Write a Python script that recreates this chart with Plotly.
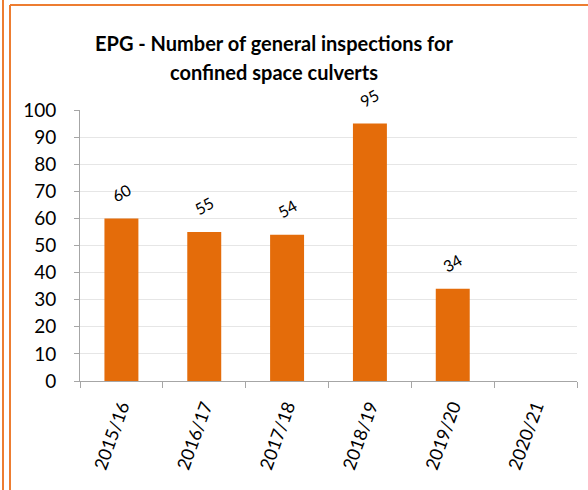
import plotly.graph_objects as go

categories = ["2015/16", "2016/17", "2017/18", "2018/19", "2019/20", "2020/21"]
values = [60, 55, 54, 95, 34, None]
labels = ["60", "55", "54", "95", "34", ""]
title_lines = ["EPG - Number of general inspections for", "confined space culverts"]

W, H = 588, 490
L, R, T, B = 80, 11, 110, 109
pw, ph = W - L - R, H - T - B

def px_x(p):
    return (p - L) / pw

def px_y(p):
    return (H - B - p) / ph

fig = go.Figure()
fig.add_trace(go.Bar(
    x=categories, y=values,
    marker=dict(color="#E46C0A", line=dict(width=0)),
    width=0.41,
    hoverinfo="skip",
))

for c, v, t in zip(categories, values, labels):
    if v is None:
        continue
    fig.add_annotation(x=c, y=v, text=t, showarrow=False, textangle=-30,
                       yshift=26, font=dict(size=16, color="#000000", family="Lato"))

for line, cy in zip(title_lines, [43, 72]):
    fig.add_annotation(xref="paper", yref="paper", x=px_x(274), y=px_y(cy),
                       xanchor="center", yanchor="middle", showarrow=False,
                       text="<b>" + line + "</b>",
                       font=dict(size=20, family="Lato", color="#000000"))

orange = "#ED7D31"
frame = [
    (px_x(3), px_y(0), px_x(3), px_y(H)),
    (px_x(10), px_y(5), px_x(10), px_y(H)),
    (px_x(10), px_y(5), px_x(W), px_y(5)),
]
for x0, y0, x1, y1 in frame:
    fig.add_shape(type="line", xref="paper", yref="paper", x0=x0, y0=y0, x1=x1, y1=y1,
                  line=dict(color=orange, width=2))

fig.update_layout(
    width=W, height=H,
    margin=dict(l=L, r=R, t=T, b=B, autoexpand=False),
    paper_bgcolor="white", plot_bgcolor="white",
    showlegend=False,
    font=dict(family="Lato", color="#000000"),
    xaxis=dict(
        type="category", tickson="boundaries", ticks="outside", ticklen=6,
        tickcolor="#A6A6A6", showline=True, linecolor="#A6A6A6", linewidth=1,
        tickangle=-70, tickfont=dict(size=18, family="Lato", color="#000000"),
        showgrid=False, range=[-0.5, 5.5], automargin=False, ticklabelstandoff=7,
    ),
    yaxis=dict(
        range=[0, 100], dtick=10, ticks="outside", ticklen=5, tickcolor="#A6A6A6",
        showline=True, linecolor="#A6A6A6", linewidth=1,
        gridcolor="#E6E6E6", gridwidth=1,
        tickfont=dict(size=19, family="Lato", color="#000000"),
        zeroline=False, automargin=False, ticklabelstandoff=14,
    ),
)

fig.write_html("out.html", config={"displayModeBar": False},
               post_script="document.body.style.margin='0';")
